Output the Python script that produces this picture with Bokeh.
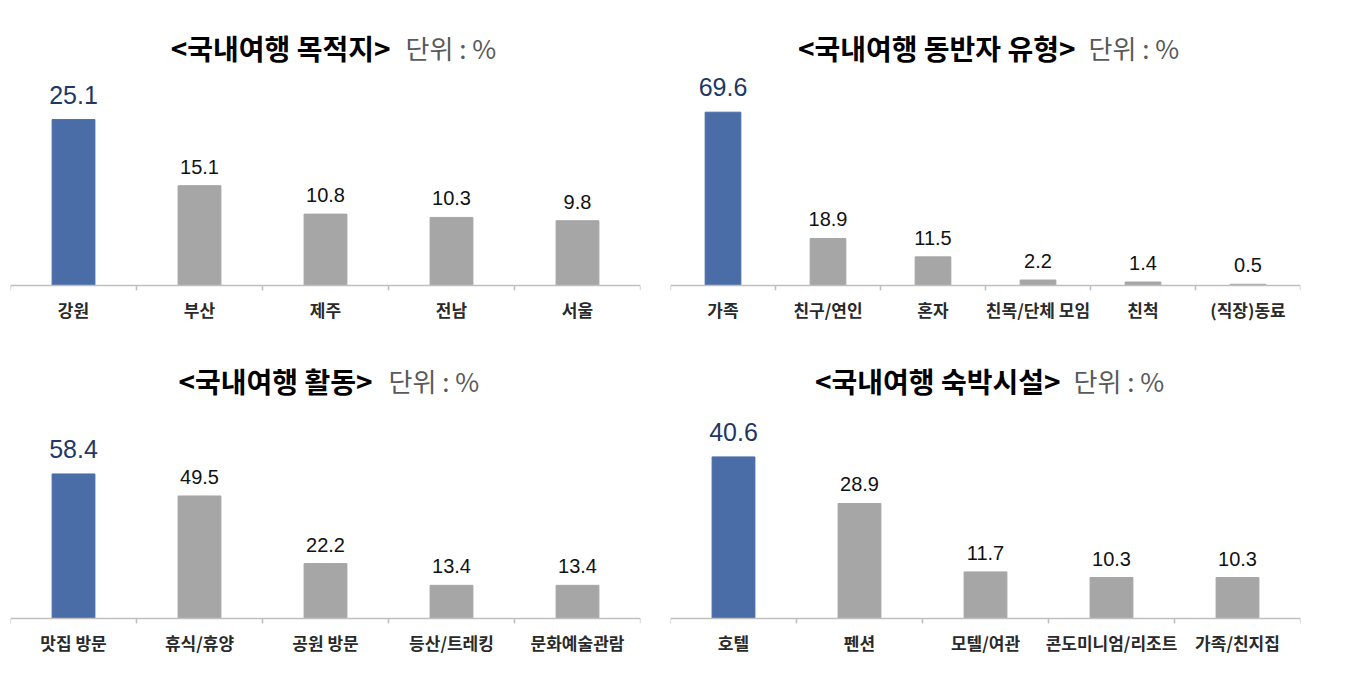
from bokeh.plotting import figure
from bokeh.models import Span, Label, ColumnDataSource, Range1d
from bokeh.transform import dodge
from bokeh.layouts import column, row
from bokeh.embed import file_html
from bokeh.resources import INLINE
from bokeh.core.properties import value

# ---- data ----
dest_cats = ["강원", "부산", "제주", "전남", "서울"]
dest_vals = [25.1, 15.1, 10.8, 10.3, 9.8]

comp_cats = ["가족", "친구/연인", "혼자", "친목/단체 모임", "친척", "(직장)동료"]
comp_vals = [69.6, 18.9, 11.5, 2.2, 1.4, 0.5]

act_cats = ["맛집 방문", "휴식/휴양", "공원 방문", "등산/트레킹", "문화예술관람"]
act_vals = [58.4, 49.5, 22.2, 13.4, 13.4]

stay_cats = ["호텔", "펜션", "모텔/여관", "콘도미니엄/리조트", "가족/친지집"]
stay_vals = [40.6, 28.9, 11.7, 10.3, 10.3]

titles = ["<국내여행 목적지>", "<국내여행 동반자 유형>", "<국내여행 활동>", "<국내여행 숙박시설>"]
unit_text = "단위 : %"

# ---- styles ----
KR = "Noto Sans CJK KR"
NUM = "Liberation Sans"
BLUE = "#4A6DA7"
GREY = "#A6A6A6"
NAVY = "#1F3864"
AXIS = "#BFBFBF"

FRAME_W = 630
FRAME_H = 282
AX_OFF = 5  # px between axis line and frame bottom


def make_panel(cats, vals, title, px_per_unit, left, right, top, title_x, unit_x):
    y0 = -AX_OFF / px_per_unit
    y1 = (FRAME_H - AX_OFF) / px_per_unit
    p = figure(x_range=cats, y_range=Range1d(y0, y1), width=left + FRAME_W + right,
               height=333 + top, output_backend="svg", toolbar_location=None,
               y_axis_location=None, min_border_left=left, min_border_right=right,
               min_border_top=top, min_border_bottom=333 - FRAME_H)
    p.outline_line_color = None
    p.xgrid.grid_line_color = None
    p.ygrid.grid_line_color = None
    p.background_fill_color = "white"
    p.border_fill_color = "white"

    colors = [BLUE] + [GREY] * (len(cats) - 1)
    src = ColumnDataSource(dict(cat=cats, val=vals, color=colors))
    p.vbar(x="cat", top="val", bottom=0, width=0.34, color="color", source=src)

    labs = [f"{v:.1f}" for v in vals]
    first = ColumnDataSource(dict(cat=cats[:1], ly=[v + 25 / px_per_unit for v in vals[:1]],
                                  lab=labs[:1]))
    rest = ColumnDataSource(dict(cat=cats[1:], ly=[v + 19 / px_per_unit for v in vals[1:]],
                                 lab=labs[1:]))
    p.text(x="cat", y="ly", text="lab", source=first,
           text_align="center", text_baseline="alphabetic", text_color=NAVY,
           text_font=value(NUM), text_font_size="25px")
    p.text(x="cat", y="ly", text="lab", source=rest,
           text_align="center", text_baseline="alphabetic", text_color="#111111",
           text_font=value(NUM), text_font_size="20px")

    # axis baseline and boundary ticks
    p.add_layout(Span(location=0, dimension="width", line_color=AXIS, line_width=1.3))
    p.segment(x0=dodge("cat", -0.5, range=p.x_range), x1=dodge("cat", -0.5, range=p.x_range),
              y0=0, y1=y0, line_color=AXIS, line_width=1.3, source=src)
    p.segment(x0=dodge("cat", 0.5, range=p.x_range), x1=dodge("cat", 0.5, range=p.x_range),
              y0=0, y1=y0, line_color=AXIS, line_width=1.3, source=src)

    ax = p.xaxis[0]
    ax.axis_line_color = None
    ax.major_tick_line_color = None
    ax.minor_tick_line_color = None
    ax.major_label_text_font = KR
    ax.major_label_text_font_size = "17px"
    ax.major_label_text_font_style = "bold"
    ax.major_label_text_color = "#2a2a2a"
    ax.major_label_standoff = 0

    p.add_layout(Label(x=title_x, y=243, x_units="screen", y_units="screen", text=title,
                       text_align="right", text_baseline="middle", text_font=KR,
                       text_font_style="bold", text_font_size="28px", text_color="#000000"))
    p.add_layout(Label(x=unit_x, y=243, x_units="screen", y_units="screen", text=unit_text,
                       text_align="left", text_baseline="middle", text_font=KR,
                       text_font_size="26px", text_color="#595959"))
    return p


p1 = make_panel(dest_cats, dest_vals, titles[0], 6.61, 10, 30, 8, 380, 395)
p2 = make_panel(comp_cats, comp_vals, titles[1], 2.49, 0, 42, 8, 405, 418)
p3 = make_panel(act_cats, act_vals, titles[2], 2.475, 10, 30, 0, 362, 378)
p4 = make_panel(stay_cats, stay_vals, titles[3], 3.98, 0, 42, 0, 390, 403)

layout = column(row(p1, p2), row(p3, p4))
open("out.html", "w").write(file_html(layout, INLINE))
